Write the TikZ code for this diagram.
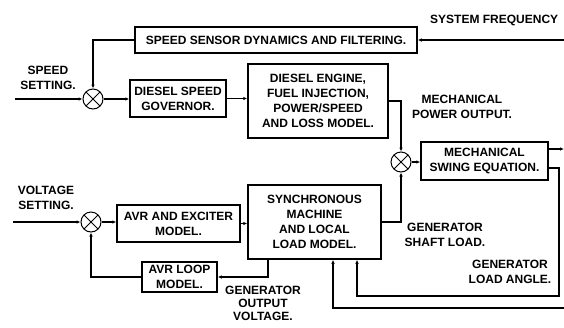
\documentclass[tikz,border=0pt]{standalone}
\usepackage{fontspec}
\setmainfont{Liberation Sans}
\usepackage{tikz}
\usetikzlibrary{arrows.meta}

\begin{document}
\begin{tikzpicture}[x=1pt,y=-1pt,font=\bfseries\fontsize{12}{15}\selectfont]
  \tikzstyle{b}=[draw,line width=1.5pt,align=center,inner sep=2pt]
  \tikzstyle{sm}=[draw,circle,line width=1pt,minimum size=20pt,inner sep=0pt,
    path picture={\draw[line width=1pt] (path picture bounding box.north west)--(path picture bounding box.south east)
      (path picture bounding box.north east)--(path picture bounding box.south west);}]
  \tikzstyle{lb}=[align=center,inner sep=0pt]
  \tikzstyle{ar}=[-{Latex[length=4pt,width=3.5pt]},line width=1.1pt]
  \useasboundingbox (0,0) rectangle (564,327);
  % blocks
  \node[b,minimum width=282pt,minimum height=26pt] (sensor) at (276,40) {SPEED SENSOR DYNAMICS AND FILTERING.};
  \node[b,minimum width=96pt,minimum height=37pt] (gov) at (178,98.5) {DIESEL SPEED\\GOVERNOR.};
  \node[b,minimum width=140pt,minimum height=74pt] (eng) at (318,101) {DIESEL ENGINE,\\FUEL INJECTION,\\POWER/SPEED\\AND LOSS MODEL.};
  \node[b,minimum width=127pt,minimum height=38pt] (swing) at (484.5,161) {MECHANICAL\\SWING EQUATION.};
  \node[b,minimum width=123pt,minimum height=37pt] (avr) at (178.5,223.5) {AVR AND EXCITER\\MODEL.};
  \node[b,minimum width=133pt,minimum height=74pt] (sync) at (314.5,222) {SYNCHRONOUS\\MACHINE\\AND LOCAL\\LOAD MODEL.};
  \node[b,minimum width=75pt,minimum height=30pt] (loop) at (179.5,277) {AVR LOOP\\MODEL.};
  % summing junctions
  \node[sm] (ssum) at (93,99) {};
  \node[sm] (msum) at (401,162) {};
  \node[sm] (vsum) at (91,222) {};
  % labels
  \node[lb] (speedset) at (48,78) {SPEED\\SETTING.};
  \node[lb,anchor=west] (sysfreq) at (430,20) {SYSTEM FREQUENCY};
  \node[lb] (mechpow) at (462,107) {MECHANICAL\\POWER OUTPUT.};
  \node[lb] (voltset) at (46,198) {VOLTAGE\\SETTING.};
  \node[lb] (shaft) at (445,235) {GENERATOR\\SHAFT LOAD.};
  \node[lb] (angle) at (510,272) {GENERATOR\\LOAD ANGLE.};
  \node[lb,font=\bfseries\fontsize{12}{13}\selectfont] (genvolt) at (263,303) {GENERATOR\\OUTPUT\\VOLTAGE.};
  % free ends
  \coordinate (sin) at (15,99);
  \coordinate (vin) at (13,222);
  \coordinate (fin) at (564,40);
  \coordinate (wout) at (564,149);
  \coordinate (nin) at (564,308);
  \coordinate (la) at (559,296);
  % connectors
  \draw[ar] (sin) -- (ssum);
  \draw[ar] (ssum) -- (ssum -| gov.west);
  \draw[ar] (gov.east) -- (gov.east -| eng.west);
  \draw[ar] (eng.east) -| (msum.north);
  \draw[ar] (msum.east) -- (msum.east -| swing.west);
  \draw[ar] ([yshift=12pt]swing.east) -- (wout);
  \draw[ar] ([yshift=-7pt]swing.east) -| (la) -| ([xshift=42.5pt]sync.south);
  \draw[ar] (nin) -| ([xshift=18.5pt]sync.south);
  \draw[ar] (sync.east) -| (msum.south);
  \draw[ar] ([xshift=-46.5pt]sync.south) |- (loop.east);
  \draw[ar] (loop.west) -| (vsum.south);
  \draw[ar] (vin) -- (vsum);
  \draw[ar] (vsum.east) -- (vsum.east -| avr.west);
  \draw[ar] (avr.east) -- (avr.east -| sync.west);
  \draw[ar] (fin) -- (sensor.east);
  \draw[ar] (sensor.west) -| (ssum.north);
\end{tikzpicture}
\end{document}
